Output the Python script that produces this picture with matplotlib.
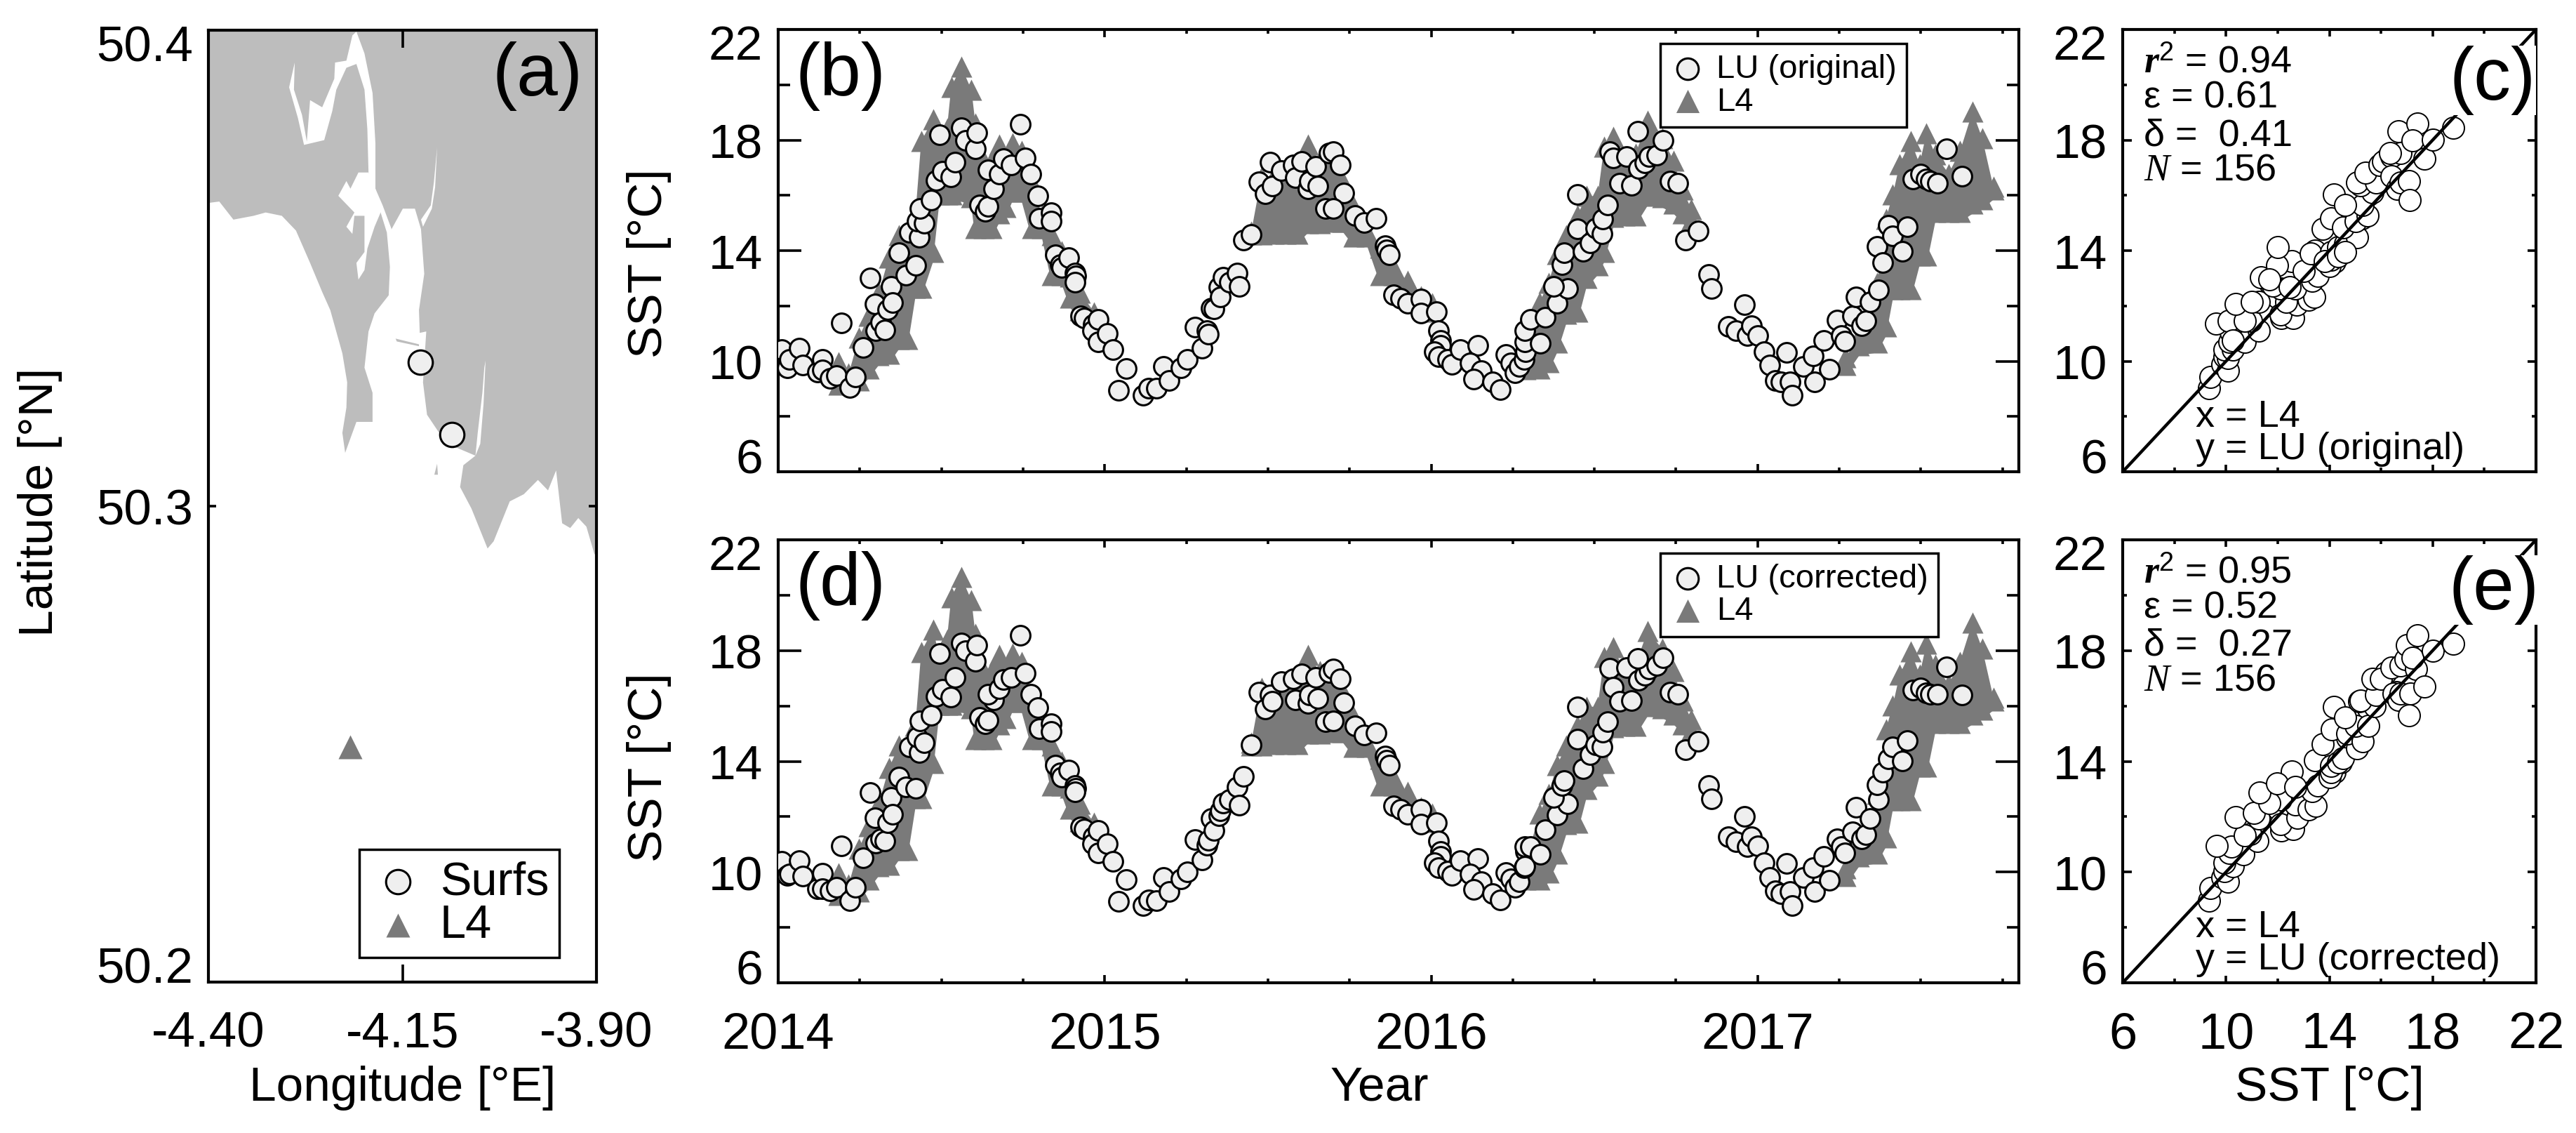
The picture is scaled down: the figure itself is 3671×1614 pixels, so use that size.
import numpy as np
import matplotlib
matplotlib.use('Agg')
import matplotlib.pyplot as plt
from matplotlib.ticker import MultipleLocator
from matplotlib.transforms import ScaledTranslation

plt.rcParams['font.family'] = ['Liberation Sans', 'DejaVu Sans']
plt.rcParams['mathtext.fontset'] = 'custom'
plt.rcParams['mathtext.rm'] = 'Liberation Sans'
plt.rcParams['mathtext.it'] = 'Liberation Serif:italic'
plt.rcParams['mathtext.bf'] = 'Liberation Serif:bold'
plt.rcParams['mathtext.bfit'] = 'Liberation Serif:italic:bold'

LAND = '#bdbdbd'
L4C = '#7a7a7a'
FILL = '#efefef'

# ---------- map outline (lon, lat) ----------
coast_lon = [-4.4,-4.386,-4.3678,-4.3418,-4.3262,-4.3054,-4.2872,-4.269,-4.2534,-4.243,-4.2274,-4.2212,-4.2222,-4.2274,-4.2238,-4.2093,-4.1885,-4.1885,-4.1989,-4.1937,-4.1859,-4.1677,-4.1661,-4.1703,-4.164,-4.1495,-4.1339,-4.1261,-4.1219,-4.1287,-4.1277,-4.1193,-4.1235,-4.1183,-4.1027,-4.0819,-4.0559,-4.0715,-4.0757,-4.0611,-4.0403,-4.0325,-4.0117,-3.9936,-3.9754,-3.9624,-3.952,-3.9442,-3.9338,-3.9234,-3.913,-3.9026,-3.9,-3.9,-4.4]
coast_lat = [50.3637,50.364,50.3602,50.361,50.3617,50.361,50.3579,50.3511,50.345,50.3412,50.3321,50.326,50.3207,50.3154,50.3112,50.3177,50.3177,50.3238,50.3291,50.3367,50.3405,50.3443,50.3503,50.3579,50.3582,50.3625,50.3625,50.3582,50.3488,50.3412,50.3364,50.3367,50.326,50.3192,50.3154,50.3124,50.3106,50.3086,50.304,50.2995,50.2911,50.2926,50.301,50.3025,50.3055,50.3033,50.3075,50.2964,50.2954,50.2975,50.2957,50.2899,50.2899,50.4,50.4]
tamar_lon = [-4.2093,-4.1989,-4.1885,-4.1848,-4.1848,-4.1755,-4.164,-4.1703,-4.1781,-4.1885,-4.1937,-4.1952,-4.1989,-4.2093,-4.2222,-4.2352,-4.2404,-4.2508,-4.2768,-4.2846,-4.296,-4.2888,-4.2898,-4.2794,-4.2732,-4.269,-4.2534,-4.2378,-4.2368,-4.2222,-4.2145]
tamar_lat = [50.3997,50.3951,50.3868,50.3762,50.3667,50.3632,50.3582,50.3576,50.3617,50.3632,50.3701,50.3792,50.3875,50.3929,50.3921,50.3875,50.383,50.3769,50.3759,50.3815,50.388,50.3932,50.3875,50.3822,50.3766,50.3853,50.3838,50.3898,50.3932,50.3936,50.3989]
tavy_lon = [-4.2326,-4.2222,-4.217,-4.2067,-4.1937,-4.1848,-4.1781,-4.1859,-4.1952,-4.1989,-4.2067,-4.2093,-4.1989,-4.1989,-4.2119,-4.2145,-4.2222,-4.2119]
tavy_lat = [50.3652,50.3683,50.3667,50.3701,50.3701,50.3667,50.3617,50.3587,50.3541,50.3496,50.3476,50.3511,50.3534,50.361,50.361,50.3572,50.3587,50.3617]
creek1_lon = [-4.1053,-4.1079,-4.1121,-4.1235,-4.1261,-4.1135,-4.1095]
creek1_lat = [50.3754,50.367,50.3625,50.3587,50.3602,50.3632,50.368]
creek2_lon = [-4.0429,-4.0455,-4.0497,-4.0559,-4.0530,-4.0470,-4.0445]
creek2_lat = [50.3306,50.3215,50.3131,50.3106,50.3154,50.3238,50.3291]
spit_lon = [-4.1588,-4.1287,-4.1287,-4.1573]
spit_lat = [50.3352,50.3340,50.3336,50.3346]
islet_lon = [-4.1089,-4.1053,-4.1043]
islet_lat = [50.3066,50.3089,50.3066]
surf_lon = [-4.127,-4.0861]
surf_lat = [50.3303,50.315]
l4_lon = [-4.217]
l4_lat = [50.2494]

# ---------- L4 SST envelope ----------
nan = float('nan')
L4_year = [2014.185,2014.216,2014.247,2014.277,2014.308,2014.339,2014.370,2014.395,2014.420,2014.438,2014.474,2014.493,2014.517,2014.530,2014.561,2014.592,2014.604,2014.629,2014.653,2014.676,2014.697,2014.717,2014.746,2014.777,2014.808,2014.839,2014.869,2014.894,2014.925,2014.968,2015.2,
 2015.449,2015.480,2015.517,2015.554,2015.591,2015.622,2015.659,2015.701,2015.729,2015.763,2015.804,2015.845,2015.886,2015.927,2015.969,2016.003,2016.15,
 2016.290,2016.332,2016.359,2016.386,2016.414,2016.448,2016.475,2016.510,2016.530,2016.558,2016.592,2016.626,2016.663,2016.708,2016.743,2016.770,2016.797,2017.0,
 2017.270,2017.311,2017.366,2017.393,2017.414,2017.435,2017.469,2017.496,2017.517,2017.544,2017.585,2017.620,2017.658,2017.688,2017.722]
L4_hi = [9.96,9.55,10.84,11.65,12.47,13.75,14.57,14.57,15.27,17.95,18.76,17.83,18.41,19.93,20.65,19.81,18.59,17.25,17.25,17.83,17.36,17.89,17.6,16.43,15.27,14.57,13.98,13.05,12.47,11.77,nan,
 14.68,16.66,16.66,16.9,17.0,17.83,17.25,17.25,16.55,15.6,14.68,14.1,13.4,12.9,12.35,12.1,nan,
 10.37,12.12,12.82,13.87,14.57,15.27,15.97,15.97,17.77,18.12,17.25,17.5,18.7,18.06,17.25,16.2,15.5,nan,
 10.14,10.9,12.82,15.15,16.02,17.13,17.97,17.13,18.24,17.48,16.78,17.6,19.02,18.06,16.3]
L4_lo = [9.16,9.22,9.3,9.74,10.21,10.27,10.79,10.79,12.66,12.66,13.94,16.04,16.04,16.04,16.15,15.92,14.81,14.81,14.81,15.34,15.57,16.13,16.13,14.81,14.81,13.12,13.12,12.3,11.84,11.49,nan,
 14.58,14.58,14.61,14.61,14.61,14.99,14.99,15.04,15.04,14.52,14.52,13.12,13.12,12.6,12.3,11.8,nan,
 9.72,9.74,9.97,10.67,11.72,11.78,13.0,13.47,13.94,15.22,15.28,15.28,15.98,15.92,15.69,15.34,15.1,nan,
 9.86,10.56,10.67,11.26,12.6,12.6,12.6,13.82,13.82,15.39,15.39,15.39,15.69,15.86,16.2]
L4_floor = [8.8,8.86,8.94,9.38,9.85,9.91,10.43,10.43,12.3,12.3,13.58,15.68,15.68,15.68,15.79,15.56,14.45,14.45,14.45,14.98,15.21,15.77,15.77,14.45,14.45,12.76,12.76,11.94,11.48,11.13,nan,
 14.22,14.22,14.25,14.25,14.25,14.63,14.63,14.68,14.68,14.16,14.16,12.76,12.76,12.24,11.94,11.44,nan,
 9.36,9.38,9.61,10.31,11.36,11.42,12.64,13.11,13.58,14.86,14.92,14.92,15.62,15.56,15.33,14.98,14.74,nan,
 9.5,10.2,10.31,10.9,12.24,12.24,12.24,13.46,13.46,15.03,15.03,15.03,15.33,15.5,15.84]

# ---------- LU SST time series ----------
LU_year = [2014.010,2014.027,2014.034,2014.065,2014.076,2014.121,2014.136,2014.136,2014.158,2014.179,2014.194,2014.219,2014.237,2014.259,2014.281,2014.298,2014.296,2014.314,2014.327,2014.335,2014.345,2014.351,2014.370,2014.392,2014.422,2014.401,2014.432,2014.425,2014.448,2014.435,2014.469,2014.483,2014.503,2014.528,2014.542,2014.494,2014.561,2014.573,2014.604,2014.609,2014.616,2014.635,2014.643,2014.660,2014.643,2014.676,2014.690,2014.713,2014.742,2014.756,2014.774,2014.795,2014.799,2014.836,2014.836,2014.848,2014.863,2014.869,2014.890,2014.910,2014.912,2014.910,2014.927,2014.937,2014.964,2014.962,2014.980,2014.980,
 2015.007,2015.026,2015.067,2015.042,2015.118,2015.134,2015.159,2015.180,2015.198,2015.233,2015.252,2015.276,2015.298,2015.313,2015.317,2015.326,2015.334,2015.350,2015.354,2015.362,2015.381,2015.405,2015.412,2015.424,2015.449,2015.473,2015.492,2015.507,2015.514,2015.541,2015.578,2015.584,2015.603,2015.622,2015.628,2015.646,2015.652,2015.677,2015.687,
 2015.701,2015.722,2015.732,2015.701,2015.766,2015.795,2015.832,2015.859,2015.863,2015.873,2015.886,2015.907,2015.927,2015.969,2015.969,
 2016.017,2016.023,2016.030,2016.030,2016.010,2016.023,2016.051,2016.064,2016.089,2016.143,2016.119,2016.154,2016.130,2016.188,2016.212,2016.229,2016.243,2016.256,2016.270,2016.284,2016.288,2016.287,2016.287,2016.304,2016.334,2016.349,2016.386,2016.418,2016.376,2016.400,2016.407,2016.448,2016.448,2016.466,2016.486,2016.503,2016.523,2016.526,2016.541,2016.548,2016.557,2016.578,2016.599,2016.613,2016.635,2016.654,2016.667,2016.690,2016.633,2016.711,2016.732,2016.756,2016.780,2016.818,2016.850,2016.859,2016.911,2016.934,2016.959,2016.969,2016.982,
 2017.000,2017.019,2017.037,2017.055,2017.071,2017.089,2017.099,2017.106,2017.140,2017.170,2017.174,2017.202,2017.219,2017.243,2017.256,2017.267,2017.291,2017.302,2017.318,2017.332,2017.345,2017.370,2017.366,2017.384,2017.400,2017.414,2017.444,2017.459,2017.476,2017.499,2017.516,2017.530,2017.551,2017.578,2017.626]
LU_orig = [10.41,9.77,10.06,10.47,9.85,9.61,10.06,9.68,9.38,9.47,11.38,9.04,9.42,10.49,13.02,11.11,12.06,11.40,11.14,11.86,12.71,12.13,13.93,13.11,13.46,14.66,14.48,15.07,14.98,15.53,15.83,16.53,16.87,16.66,17.2,18.2,18.45,18.0,17.69,18.27,15.65,15.42,15.59,16.23,16.93,16.76,17.32,17.11,18.57,17.34,16.78,15.98,15.16,15.36,15.07,13.84,13.49,13.38,13.75,13.2,13.09,12.85,11.63,11.57,11.34,11.11,11.51,10.70,
 11.01,10.41,9.73,8.95,8.77,9.01,9.01,9.82,9.30,9.77,10.06,11.22,10.46,11.11,10.99,11.92,11.9,12.68,12.33,13.03,12.85,13.2,12.71,14.37,14.58,16.5,16.06,17.2,16.33,16.9,17.11,16.64,17.22,16.23,16.52,17.05,16.33,15.53,17.52,
 17.57,17.11,16.08,15.53,15.28,15.01,15.16,14.19,14.02,13.84,12.41,12.27,12.10,12.25,11.75,
 11.78,11.11,10.76,10.58,10.35,10.17,10.06,9.88,10.41,10.58,9.94,9.65,9.36,9.24,8.98,10.23,9.94,9.59,9.82,10.06,10.35,10.70,11.11,11.51,10.66,11.59,12.10,12.62,12.70,13.49,13.93,16.04,14.80,13.97,14.27,14.81,14.60,15.15,15.65,17.57,17.34,16.43,17.40,16.35,16.97,17.17,17.40,17.46,18.32,17.98,16.52,16.43,14.39,14.72,13.14,12.62,11.26,11.11,12.04,10.93,11.28,
 10.93,10.35,9.86,9.30,9.24,10.31,9.24,8.77,9.82,10.20,9.24,10.76,9.71,11.48,10.93,10.73,11.63,12.33,11.28,11.45,12.15,12.59,14.14,13.58,14.92,14.54,13.97,14.87,16.58,16.76,16.58,16.52,16.43,17.67,16.68]
LU_corr = [10.39,9.87,9.93,10.42,9.85,9.40,9.96,9.40,9.31,9.44,10.94,8.97,9.44,10.51,12.88,11.04,11.97,11.21,11.13,11.79,12.70,12.08,13.43,13.07,13.02,14.53,14.32,14.88,14.68,15.46,15.66,16.34,16.6,16.31,17.04,17.89,18.26,18.0,17.62,18.2,15.58,15.35,15.49,16.22,16.41,16.63,16.95,17.04,18.55,17.18,16.42,15.93,15.17,15.35,15.08,13.86,13.58,13.43,13.68,13.13,13.02,12.9,11.62,11.56,11.27,11.03,11.5,10.69,
 11.03,10.39,9.73,8.94,8.80,8.99,8.97,9.81,9.29,9.75,10.01,11.17,10.45,10.98,11.15,11.93,11.50,12.03,12.2,12.49,12.61,13.07,12.41,13.46,14.59,16.51,15.9,16.4,16.16,16.89,16.98,16.22,17.15,16.1,16.4,17.04,16.26,15.44,17.21,
 17.33,16.98,16.11,15.46,15.29,14.94,15.02,14.18,14.04,13.87,12.38,12.26,12.08,12.26,11.73,
 11.77,11.13,10.74,10.57,10.34,10.16,10.04,9.87,10.42,10.48,9.93,9.64,9.38,9.23,9.0,9.99,9.75,9.46,9.66,10.16,10.74,10.22,10.92,10.92,10.63,11.52,12.06,12.46,12.69,13.13,13.31,15.97,14.79,13.74,14.24,14.59,14.53,15.06,15.44,17.36,16.68,16.16,17.39,16.19,16.92,17.10,17.33,17.45,17.71,17.74,16.51,16.43,14.42,14.71,13.13,12.64,11.27,11.09,12.0,10.92,11.27,
 10.94,10.34,9.81,9.31,9.23,10.30,9.29,8.80,9.81,10.16,9.29,10.57,9.70,11.21,10.92,10.69,11.44,12.35,11.21,11.35,11.93,12.61,13.16,13.60,14.09,14.53,14.01,14.74,16.57,16.65,16.46,16.42,16.43,17.42,16.4]

# ---------- scatter: L4 (x) against LU (y) ----------
c_x = [14.1,14.2,14.45,16.6,16.9,16.7,15.8,15.9,16.2,11.7,12.0,13.0,14.7,15.3,15.5,9.34,9.40,9.87,10.07,9.94,10.07,9.94,10.27,10.14,10.18,9.60,10.10,10.74,11.27,10.98,10.74,10.37,11.27,11.01,12.14,12.61,12.10,12.74,12.34,13.21,13.41,12.68,12.10,11.81,11.34,13.34,13.54,12.54,11.98,12.01,13.01,14.01,14.08,13.44,13.28,14.08,14.34,14.61,15.08,13.74,14.08,15.25,14.54,15.01,15.48,15.28,14.18,14.61,15.68,15.21,15.08,15.81,15.41,15.95,16.08,16.41,16.75,16.35,16.41,16.61,16.75,17.08,17.12,17.68,16.68,17.41,17.21,18.02,18.79,10.27,11.67,12.47,13.81,14.34,14.61]
c_y = [13.8,13.6,14.0,16.5,16.3,16.35,16.9,17.0,17.3,12.8,12.3,12.7,14.9,15.6,16.0,9.03,9.42,9.88,9.65,10.17,10.11,10.41,10.41,10.70,11.05,11.36,11.45,10.70,11.11,11.45,11.45,12.06,12.15,12.15,11.57,11.57,11.69,12.04,12.15,12.21,12.33,12.62,12.62,12.74,13.03,12.91,13.09,13.61,13.47,14.13,13.26,13.44,13.67,13.99,13.90,13.96,14.13,14.25,14.49,14.78,15.18,15.18,14.83,15.07,15.28,15.65,16.04,15.65,16.12,16.35,16.47,16.47,16.82,17.11,17.22,17.40,17.52,17.52,16.68,16.23,16.47,16.52,15.82,17.32,18.31,18.59,18.0,18.02,18.45,10.76,12.97,12.68,13.61,13.79,13.94]
e_x = [14.1,14.2,14.45,16.6,16.9,16.7,15.8,15.9,16.2,11.7,12.0,13.0,14.7,15.3,15.5,9.34,9.40,9.87,10.07,9.94,10.27,9.94,10.67,10.14,10.21,9.63,11.21,10.94,10.74,10.37,11.27,11.07,12.14,12.61,12.10,12.77,12.68,13.21,13.48,12.10,11.67,11.30,13.34,13.54,12.54,11.98,12.68,14.01,14.08,13.44,14.08,14.34,14.54,15.08,13.74,14.10,14.68,15.28,15.01,15.52,14.18,14.61,15.75,15.15,15.21,15.81,15.68,16.0,16.41,16.75,16.95,17.35,16.48,16.68,16.75,17.15,17.68,17.08,16.99,17.41,17.21,18.02,18.79]
e_y = [13.75,13.6,13.95,16.5,16.3,16.35,16.85,16.95,17.2,12.7,12.3,12.6,14.85,15.5,15.9,8.96,9.43,9.81,9.64,10.04,10.22,10.34,10.63,10.69,10.92,10.94,11.13,11.38,11.33,11.99,11.94,12.14,11.5,11.56,11.73,11.97,12.43,12.26,12.38,12.61,12.49,12.88,12.92,13.13,13.62,13.19,13.07,13.42,13.6,14.03,13.83,13.95,14.12,14.47,14.63,15.15,15.0,14.71,15.29,15.29,15.97,15.58,15.99,16.16,16.19,16.40,16.98,16.98,17.39,17.45,17.68,17.33,16.45,16.22,16.45,16.45,16.69,15.67,18.2,18.55,17.74,18.0,18.24]
one_to_one = [6, 22]

# ---------- ticks and labels ----------
sst_ticks = [6, 10, 14, 18, 22]
year_ticks = [2014, 2015, 2016, 2017]
year_labels = ['2014', '2015', '2016', '2017']
lon_ticks = [-4.40, -4.15, -3.90]
lon_labels = ['-4.40', '-4.15', '-3.90']
lat_ticks = [50.2, 50.3, 50.4]
lat_labels = ['50.2', '50.3', '50.4']

W, H = 3671, 1615
fig = plt.figure(figsize=(W/100, H/100), dpi=100)

def mkax(l, r, t, b):
    return fig.add_axes([l/W, 1-b/H, (r-l)/W, (b-t)/H])

ax_a = mkax(297, 850, 44, 1400)
ax_b = mkax(1109, 2877, 43, 673)
ax_d = mkax(1109, 2877, 770, 1401)
ax_c = mkax(3025, 3614, 43, 673)
ax_e = mkax(3025, 3614, 770, 1401)

def style(ax, xmaj, ymaj, xmin=0, ymin=0, xfs=52, yfs=50):
    for s in ax.spines.values():
        s.set_linewidth(3)
    ax.tick_params(which='major', direction='in', top=True, right=True, width=2.6, pad=16)
    ax.tick_params(axis='x', which='major', length=xmaj, pad=29, labelsize=xfs)
    ax.tick_params(axis='y', which='major', length=ymaj, labelsize=yfs)
    ax.tick_params(axis='x', which='minor', direction='in', top=True, length=xmin, width=2.6)
    ax.tick_params(axis='y', which='minor', direction='in', right=True, length=ymin, width=2.6)

def shift_ends(ax, up, down):
    labs = ax.get_yticklabels()
    labs[0].set_transform(labs[0].get_transform() + ScaledTranslation(0, up/100, fig.dpi_scale_trans))
    labs[-1].set_transform(labs[-1].get_transform() + ScaledTranslation(0, -down/100, fig.dpi_scale_trans))

# ----- (a) map
ax_a.fill(coast_lon, coast_lat, color=LAND, lw=0, zorder=1)
for lo, la in [(tamar_lon, tamar_lat), (tavy_lon, tavy_lat), (creek1_lon, creek1_lat), (creek2_lon, creek2_lat)]:
    ax_a.fill(lo, la, color='white', lw=0, zorder=1.5)
for lo, la in [(spit_lon, spit_lat), (islet_lon, islet_lat)]:
    ax_a.fill(lo, la, color=LAND, lw=0, zorder=1.6)
h1 = ax_a.scatter(surf_lon, surf_lat, s=620, facecolor=FILL, edgecolor='k', linewidth=2.2, zorder=3, label='Surfs')
h2 = ax_a.scatter(l4_lon, l4_lat, s=600, marker='^', color=L4C, linewidth=0, zorder=3, label='L4')
ax_a.set_xlim(-4.40, -3.90)
ax_a.set_ylim(50.2, 50.4)
ax_a.set_xticks(lon_ticks, lon_labels)
ax_a.set_yticks(lat_ticks, lat_labels)
style(ax_a, 18, 8, xfs=51, yfs=51)
shift_ends(ax_a, 25, 18)
leg = ax_a.legend(handles=[h1, h2], loc='lower left', bbox_to_anchor=(0.389, 0.026), borderaxespad=0,
                  fancybox=False, edgecolor='k', framealpha=1, fontsize=48, handletextpad=0.3,
                  labelspacing=0.0, borderpad=0.22, handlelength=1.2)
leg.get_frame().set_linewidth(2.5)

# ----- (b), (d) time series
def series(ax, lu, lab, anchor):
    ax.fill_between(L4_year, L4_floor, L4_hi, color=L4C, lw=0, zorder=1)
    h_t = ax.scatter(L4_year + L4_year, L4_hi + L4_lo, s=470, marker='^', color=L4C, linewidth=0, zorder=1.5, label='L4')
    h_c = ax.scatter(LU_year, lu, s=400, facecolor=FILL, edgecolor='k', linewidth=2.2, zorder=3, label=lab)
    ax.set_xlim(2014, 2017.8)
    ax.set_ylim(6, 22)
    ax.set_xticks(year_ticks, year_labels)
    ax.xaxis.set_minor_locator(MultipleLocator(0.25))
    ax.yaxis.set_minor_locator(MultipleLocator(2))
    ax.set_yticks(sst_ticks)
    style(ax, 8, 24, 4, 12)
    shift_ends(ax, 23, 17)
    lg = ax.legend(handles=[h_c, h_t], loc='upper left', bbox_to_anchor=anchor, borderaxespad=0,
                   fancybox=False, edgecolor='k', framealpha=1, fontsize=34, handletextpad=0.35,
                   labelspacing=0.05, borderpad=0.3, handlelength=1.05, markerscale=1.1)
    lg.get_frame().set_linewidth(2.5)
    lg.set_zorder(4)

series(ax_b, LU_orig, 'LU (original)', (0.711, 0.968))
series(ax_d, LU_corr, 'LU (corrected)', (0.711, 0.97))
ax_b.set_xticklabels([])

# ----- (c), (e) scatter
def scat(ax, x, y, stats, lab):
    ax.scatter(x, y, s=500, facecolor='white', edgecolor='k', linewidth=1.4, zorder=2)
    ax.plot(one_to_one, one_to_one, color='k', lw=3.2, zorder=3)
    ax.set_xlim(6, 22)
    ax.set_ylim(6, 22)
    ax.set_xticks(sst_ticks)
    ax.set_yticks(sst_ticks)
    ax.xaxis.set_minor_locator(MultipleLocator(2))
    ax.yaxis.set_minor_locator(MultipleLocator(2))
    style(ax, 7, 9, 4, 4)
    shift_ends(ax, 23, 17)
    tr = ax.transAxes
    h = ax.get_position().height * H
    y0 = [60, 111, 164, 214]
    for s, dy in zip(stats, y0):
        ax.text(30/589, 1-dy/h, s, transform=tr, fontsize=39, va='baseline', ha='left', zorder=6)
    ax.text(104/589, 1-565/h, 'x = L4', transform=tr, fontsize=39, va='baseline', ha='left', zorder=6)
    ax.text(104/589, 1-611/h, lab, transform=tr, fontsize=39, va='baseline', ha='left', zorder=6)

scat(ax_c, c_x, c_y, [r'$\mathbfit{r}^{2}$ = 0.94', 'ε = 0.61', 'δ =  0.41', r'$\mathit{N}$ = 156'], 'y = LU (original)')
scat(ax_e, e_x, e_y, [r'$\mathbfit{r}^{2}$ = 0.95', 'ε = 0.52', 'δ =  0.27', r'$\mathit{N}$ = 156'], 'y = LU (corrected)')
ax_c.set_xticklabels([])

# ----- panel letters (pixel centres)
def letter(x, y, s, ha='center', bg=False):
    kw = dict(bbox=dict(facecolor='white', edgecolor='none', pad=0)) if bg else {}
    fig.text(x/W, 1-y/H, s, fontsize=76, ha=ha, va='center', zorder=10, **kw)

letter(766, 108, '(a)')
letter(1198, 109, '(b)')
letter(3552, 115, '(c)', bg=True)
letter(1198, 835, '(d)')
letter(3554, 841, '(e)', bg=True)

# ----- axis labels
fig.text(57/W, 1-715/H, 'Latitude [°N]', fontsize=50, rotation=90, ha='center', va='center')
fig.text(574/W, 1-1550/H, 'Longitude [°E]', fontsize=50, ha='center', va='center')
fig.text(925/W, 1-375/H, 'SST [°C]', fontsize=50, rotation=90, ha='center', va='center')
fig.text(925/W, 1-1093/H, 'SST [°C]', fontsize=50, rotation=90, ha='center', va='center')
fig.text(1966/W, 1-1550/H, 'Year', fontsize=50, ha='center', va='center')
fig.text(3320/W, 1-1550/H, 'SST [°C]', fontsize=50, ha='center', va='center')

fig.savefig('out.png', dpi=100, facecolor='white')
